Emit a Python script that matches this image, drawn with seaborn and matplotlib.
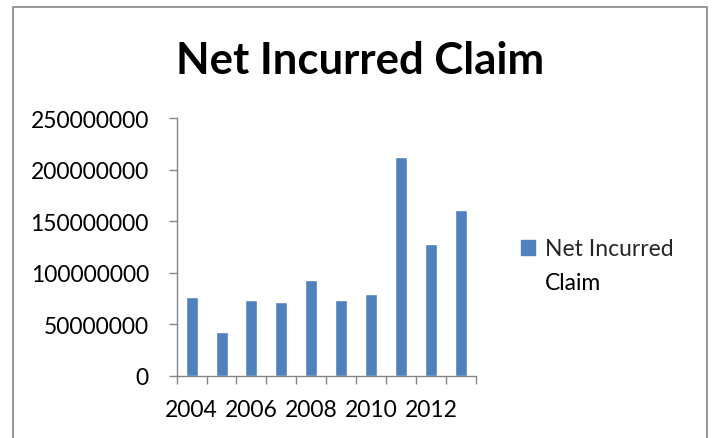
import pandas as pd
import matplotlib
matplotlib.use("Agg")
import matplotlib.pyplot as plt
import matplotlib.ticker as mtick
from matplotlib.patches import Rectangle, Patch
import seaborn as sns

# ── Data ──────────────────────────────────────────────────────────────────────
years = [2004, 2005, 2006, 2007, 2008, 2009, 2010, 2011, 2012, 2013]
claims = [76.7e6, 42.1e6, 73.8e6, 71.3e6, 92.7e6, 73.5e6, 79.1e6,
          212.7e6, 127.6e6, 160.6e6]
y_ticks = [0, 50000000, 100000000, 150000000, 200000000, 250000000]
x_labels = ["2004", "2006", "2008", "2010", "2012"]
series_name = ["Net Incurred", "Claim"]  # legend label, wrapped like Excel

df = pd.DataFrame({"year": [str(y) for y in years], "claim": claims})

# ── Style ─────────────────────────────────────────────────────────────────────
sns.set_theme(style="white")
plt.rcParams["font.family"] = ["Lato", "DejaVu Sans"]
BLUE = "#4F81BD"
GREY = "#868686"

fig = plt.figure(figsize=(7.15, 4.39), dpi=100)
ax = fig.add_axes([176.7 / 715, 1 - 376.7 / 439, 299 / 715, 257.4 / 439])

sns.barplot(data=df, x="year", y="claim", color=BLUE, width=0.4,
            saturation=1, ax=ax)

ax.set_xlim(-0.5, len(years) - 0.5)
ax.set_ylim(0, 250000000)
ax.set_yticks(y_ticks)
ax.yaxis.set_major_formatter(mtick.FuncFormatter(lambda v, _: f"{int(v)}"))

# tick marks between categories, labels under every other bar
ax.set_xticks([i - 0.5 for i in range(len(years) + 1)])
ax.set_xticklabels([])
ax.set_xticks([0, 2, 4, 6, 8], minor=True)
ax.set_xticklabels(x_labels, minor=True)
ax.tick_params(axis="x", which="major", length=5.5, width=1, color=GREY,
               direction="out", bottom=True)
ax.tick_params(axis="x", which="minor", length=0, pad=17, labelsize=16.5,
               labelcolor="black")
ax.tick_params(axis="y", length=5.5, width=1, color=GREY, direction="out",
               left=True, pad=14.5, labelsize=16.5, labelcolor="black")

ax.set_xlabel("")
ax.set_ylabel("")
for side in ["top", "right"]:
    ax.spines[side].set_visible(False)
for side in ["left", "bottom"]:
    ax.spines[side].set_color(GREY)
    ax.spines[side].set_linewidth(1)

# title
fig.text(360 / 715, 1 - 74 / 439, "Net Incurred Claim", ha="center",
         va="baseline", fontsize=31.5, fontweight="bold", color="black")

# legend (first line with the marker, wrapped second line below it)
handle = Patch(facecolor=BLUE, edgecolor=BLUE)
leg = fig.legend([handle], [series_name[0]], loc="center left",
                 bbox_to_anchor=(521 / 715, 1 - 250 / 439), frameon=False,
                 fontsize=16.5, handlelength=0.6, handleheight=0.6,
                 handletextpad=0.45, borderaxespad=0, borderpad=0)
fig.canvas.draw()
bb = leg.get_texts()[0].get_window_extent()
fig.text(bb.x0 / fig.bbox.width, 1 - 283 / 439, series_name[1],
         ha="left", va="center", fontsize=16.5, color="black")

# outer chart frame
fig.patches.append(Rectangle((12.5 / 715, -0.05), (707 - 12.5) / 715,
                             1.05 - 8 / 439, transform=fig.transFigure,
                             fill=False, edgecolor=GREY, linewidth=1.2,
                             clip_on=False))

plt.savefig("out.png", dpi=100)
plt.close()
